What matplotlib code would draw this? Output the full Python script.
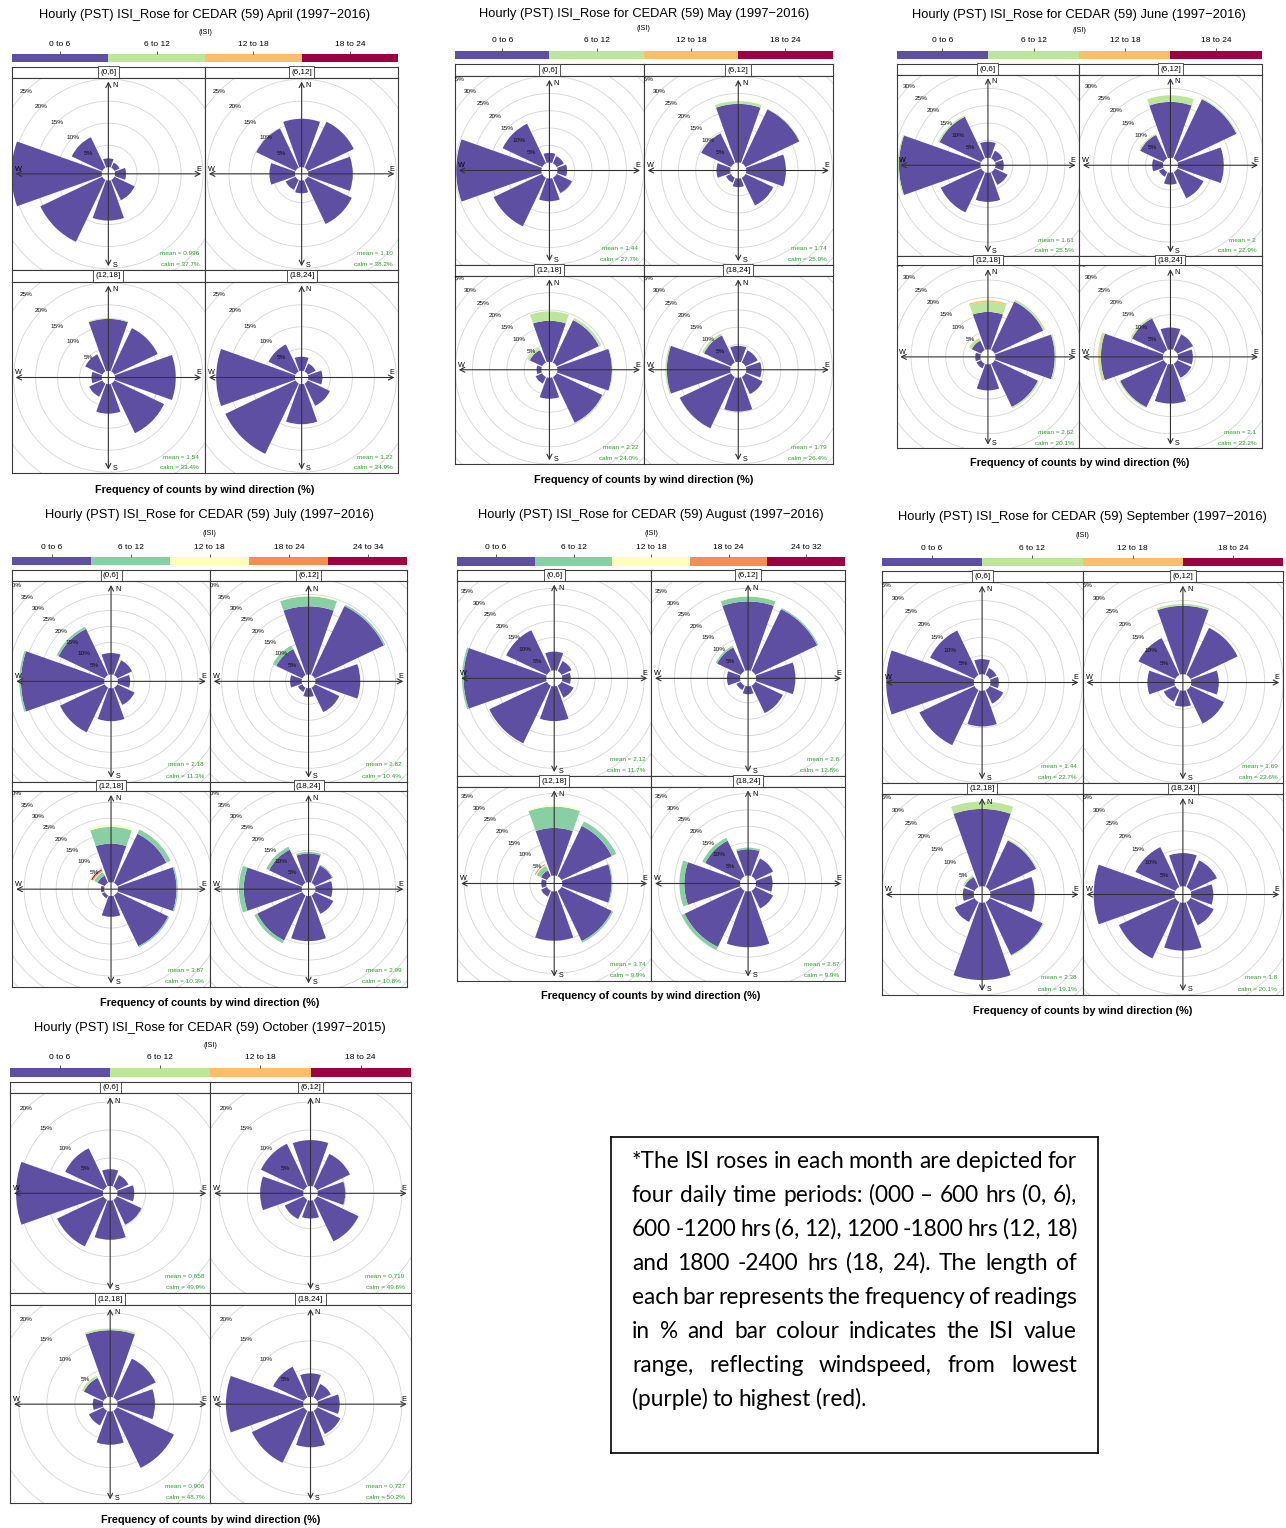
import matplotlib
matplotlib.use("Agg")
import matplotlib.pyplot as plt
from matplotlib.patches import Wedge, Circle
import numpy as np

plt.rcParams['font.family'] = ['Liberation Sans', 'DejaVu Sans']

WPX, HPX = 1286, 1528
fig = plt.figure(figsize=(WPX / 100, HPX / 100), dpi=100)

# ---------------- data ----------------
DIRECTIONS = [0, 45, 90, 135, 180, 225, 270, 315]          # N NE E SE S SW W NW
PERIODS = ["(0,6]", "(6,12]", "(12,18]", "(18,24]"]

PAL4 = ['#5E4FA2', '#BEE59C', '#FDBE6C', '#9E0142']
PAL5 = ['#5E4FA2', '#88CFA4', '#FFFFBF', '#F88D52', '#9E0142']

BINS4 = ["0 to 6", "6 to 12", "12 to 18", "18 to 24"]
BINS_JUL = ["0 to 6", "6 to 12", "12 to 18", "18 to 24", "24 to 34"]
BINS_AUG = ["0 to 6", "6 to 12", "12 to 18", "18 to 24", "24 to 32"]

# each panel: list of ISI bins, each bin = 8 direction frequencies (%)
april_freq = [
    [[2.0, 1.3, 2.5, 5.1, 9.1, 15.6, 20.5, 7.7]],
    [[11.0, 11.6, 10.1, 11.1, 2.9, 2.5, 5.8, 9.9]],
    [[11.8, 10.9, 13.8, 12.5, 6.7, 3.3, 2.3, 4.3], [0.2, 0, 0, 0, 0, 0, 0, 0]],
    [[3.2, 2.0, 3.2, 5.6, 9.1, 17.7, 17.9, 6.8]],
]
april_mean = ["0.996", "1.10", "1.54", "1.22"]
april_calm = ["37.7", "38.2", "33.4", "34.9"]

may_freq = [
    [[2.8, 2.3, 2.8, 4.9, 6.6, 15.6, 24.7, 12.7]],
    [[17.0, 17.3, 11.5, 8.9, 2.5, 1.6, 4.0, 9.6], [0.8, 0.2, 0, 0, 0, 0, 0, 0.1]],
    [[11.9, 13.6, 15.8, 14.7, 6.1, 2.1, 1.4, 4.0], [2.7, 0.7, 0.2, 0.2, 0, 0, 0, 0.8]],
    [[4.6, 3.9, 4.4, 5.5, 9.8, 16.5, 18.4, 8.7], [0, 0, 0, 0, 0, 0.1, 0.4, 0.6]],
]
may_mean = ["1.44", "1.74", "2.22", "1.79"]
may_calm = ["27.7", "25.9", "24.0", "26.4"]

june_freq = [
    [[4.6, 2.5, 2.4, 4.1, 8.4, 12.9, 23.5, 13.3], [0, 0, 0, 0, 0, 0, 0.3, 0.4]],
    [[16.1, 18.9, 13.2, 8.4, 3.4, 1.5, 3.1, 7.5], [1.9, 0.3, 0, 0, 0, 0, 0, 0.3]],
    [[10.8, 15.5, 17.1, 13.8, 7.5, 1.5, 1.5, 3.0], [2.9, 0.6, 0.4, 0.4, 0, 0, 0, 0.8],
     [0.4, 0, 0, 0, 0, 0, 0, 0.1]],
    [[6.3, 5.0, 4.3, 4.5, 11.3, 13.9, 17.9, 10.1], [0, 0, 0, 0, 0, 0.3, 0.6, 0.5],
     [0, 0, 0, 0, 0, 0, 0.2, 0]],
]
june_mean = ["1.61", "2", "2.62", "2.1"]
june_calm = ["25.5", "22.9", "20.1", "22.2"]

july_freq = [
    [[6.7, 5.1, 3.8, 6.0, 10.3, 15.5, 26.0, 16.0], [0, 0, 0, 0, 0, 0, 0.5, 0.7]],
    [[21.3, 23.9, 14.0, 8.5, 2.7, 1.5, 3.6, 9.0], [3.1, 0.5, 0, 0, 0, 0, 0, 1.2],
     [0.2, 0, 0, 0, 0, 0, 0, 0]],
    [[12.1, 17.0, 18.3, 17.6, 6.5, 1.0, 1.0, 2.5], [5.2, 1.5, 0.4, 0.4, 0, 0, 0, 1.2],
     [0.7, 0.1, 0, 0, 0, 0, 0, 0.3], [0, 0, 0, 0, 0, 0, 0, 0.4], [0, 0, 0, 0, 0, 0, 0, 0.3]],
    [[9.0, 6.0, 5.3, 6.4, 14.1, 15.6, 18.1, 11.5], [0.5, 0.3, 0, 0, 0, 1.0, 1.5, 1.0]],
]
july_mean = ["2.18", "2.82", "3.87", "2.99"]
july_calm = ["11.3", "10.4", "10.3", "10.8"]

august_freq = [
    [[5.7, 3.4, 2.6, 4.1, 10.6, 19.5, 25.2, 13.8], [0, 0, 0, 0, 0, 0, 0.5, 0]],
    [[21.0, 20.9, 12.0, 9.3, 2.4, 1.5, 4.0, 8.0], [1.5, 0.4, 0, 0, 0, 0, 0, 0.5],
     [0.2, 0, 0, 0, 0, 0, 0, 0]],
    [[14.5, 17.0, 15.0, 17.0, 15.0, 2.0, 1.5, 2.0], [6.5, 1.5, 0.3, 0.5, 0, 0, 0, 1.5],
     [0.4, 0, 0, 0, 0, 0, 0, 0.3], [0, 0, 0, 0, 0, 0, 0, 0.3]],
    [[8.0, 6.0, 5.0, 6.0, 17.0, 19.0, 17.0, 12.0], [0.5, 0, 0, 0, 0, 1.0, 1.5, 1.0]],
]
august_mean = ["2.12", "2.6", "3.74", "2.87"]
august_calm = ["11.7", "12.8", "9.9", "9.9"]

september_freq = [
    [[4.1, 2.1, 2.3, 4.1, 9.7, 16.6, 23.8, 13.4]],
    [[18.6, 14.2, 7.5, 10.1, 4.3, 3.5, 7.4, 11.1], [0.5, 0, 0, 0, 0, 0, 0, 0]],
    [[21.0, 14.0, 12.0, 16.0, 21.0, 6.0, 3.0, 3.0], [2.0, 0.3, 0, 0.3, 0, 0, 0, 0.5]],
    [[9.0, 8.0, 6.0, 7.0, 13.0, 17.0, 22.0, 12.0]],
]
september_mean = ["1.44", "1.69", "2.38", "1.8"]
september_calm = ["22.7", "22.6", "19.1", "20.1"]

october_freq = [
    [[3.0, 2.3, 3.0, 4.9, 7.0, 9.2, 15.5, 7.6]],
    [[8.2, 6.5, 4.9, 8.2, 3.2, 3.8, 7.7, 8.5]],
    [[11.9, 7.7, 6.7, 11.3, 5.95, 2.9, 1.8, 3.9], [0.3, 0, 0, 0, 0, 0, 0, 0.4]],
    [[4.2, 2.7, 3.9, 4.6, 6.4, 10.3, 13.8, 6.1]],
]
october_mean = ["0.658", "0.719", "0.906", "0.727"]
october_calm = ["49.9", "49.6", "48.7", "50.2"]

NOTE_LINES = [
    "*The ISI roses in each month are depicted for",
    "four daily time periods: (000 \u2013 600 hrs (0, 6),",
    "600 -1200 hrs (6, 12), 1200 -1800 hrs (12, 18)",
    "and 1800 -2400 hrs (18, 24). The length of",
    "each bar represents the frequency of readings",
    "in % and bar colour indicates the ISI value",
    "range, reflecting windspeed, from lowest",
    "(purple) to highest (red).",
]

# ---------------- layout (pixels) ----------------
# box: left, right, top, strip1 bottom, panel1 bottom, strip2 bottom, bottom
MONTHS = [
    dict(title="Hourly (PST) ISI_Rose for CEDAR (59) April (1997\u22122016)", bins=BINS4, pal=PAL4,
         freq=april_freq, mean=april_mean, calm=april_calm,
         box=(11.7, 398.3, 66.7, 77.7, 270, 281.7, 473.3), ty=15, isi=32.7, cb=(54.3, 61.7), cap=490,
         k=4.4, r0=6.7),
    dict(title="Hourly (PST) ISI_Rose for CEDAR (59) May (1997\u22122016)", bins=BINS4, pal=PAL4,
         freq=may_freq, mean=may_mean, calm=may_calm,
         box=(455, 832.7, 64.3, 76, 265, 275.5, 464), ty=14, isi=28.3, cb=(51, 59), cap=480,
         k=3.45, r0=8.0),
    dict(title="Hourly (PST) ISI_Rose for CEDAR (59) June (1997\u22122016)", bins=BINS4, pal=PAL4,
         freq=june_freq, mean=june_mean, calm=june_calm,
         box=(896.7, 1261.7, 64.3, 74.5, 256, 265.5, 448.3), ty=15, isi=30.7, cb=(51, 59), cap=463.3,
         k=3.47, r0=7.5),
    dict(title="Hourly (PST) ISI_Rose for CEDAR (59) July (1997\u22122016)", bins=BINS_JUL, pal=PAL5,
         freq=july_freq, mean=july_mean, calm=july_calm,
         box=(12.3, 407.3, 570, 581, 781.7, 791, 987.3), ty=515, isi=534, cb=(557.3, 565), cap=1003,
         k=3.2, r0=6.9),
    dict(title="Hourly (PST) ISI_Rose for CEDAR (59) August (1997\u22122016)", bins=BINS_AUG, pal=PAL5,
         freq=august_freq, mean=august_mean, calm=august_calm,
         box=(457.3, 845, 570, 580.7, 776, 786.5, 980.5), ty=515, isi=533.3, cb=(557.3, 565.7), cap=996,
         k=3.28, r0=8.0),
    dict(title="Hourly (PST) ISI_Rose for CEDAR (59) September (1997\u22122016)", bins=BINS4, pal=PAL4,
         freq=september_freq, mean=september_mean, calm=september_calm,
         box=(881.7, 1283.3, 570.7, 581.7, 783.3, 794, 995), ty=517.3, isi=535, cb=(558.3, 566), cap=1011,
         k=3.68, r0=8.3),
    dict(title="Hourly (PST) ISI_Rose for CEDAR (59) October (1997\u22122015)", bins=BINS4, pal=PAL4,
         freq=october_freq, mean=october_mean, calm=october_calm,
         box=(10, 410.7, 1081.7, 1093.3, 1293.3, 1305, 1503.3), ty=1028.3, isi=1045.7, cb=(1067.7, 1076.7),
         cap=1520, k=5.6, r0=7.3),
]

LINE_C = '#3a3a3a'
HALF_ANGLE = 19.5


def axes_px(l, t, r, b):
    return fig.add_axes([l / WPX, 1 - b / HPX, (r - l) / WPX, (b - t) / HPX])


def style_box(ax):
    ax.set_xticks([])
    ax.set_yticks([])
    for s in ax.spines.values():
        s.set_color(LINE_C)
        s.set_linewidth(0.8)


def draw_month(m):
    L, R, top, s1b, p1b, s2b, bot = m['box']
    cx = (L + R) / 2
    fig.text(cx / WPX, 1 - m['ty'] / HPX, m['title'], ha='center', va='center', fontsize=9.3)
    fig.text(cx / WPX, 1 - m['isi'] / HPX, '(ISI)', ha='center', va='center', fontsize=5.3)

    # colour key
    bins, pal = m['bins'], m['pal']
    n = len(bins)
    cax = axes_px(L, m['cb'][0], R, m['cb'][1])
    pos = np.arange(n) + 0.5
    cax.bar(pos, np.ones(n), width=1.0, color=pal[:n], edgecolor='none')
    cax.set_xlim(0, n)
    cax.set_ylim(0, 1)
    cax.set_xticks(pos)
    cax.set_xticklabels(bins, fontsize=6.0)
    cax.xaxis.tick_top()
    cax.tick_params(axis='x', length=2.5, width=0.6, pad=2.2, color='#444444')
    cax.set_yticks([])
    for s in cax.spines.values():
        s.set_visible(False)

    k, r0 = m['k'], m['r0']
    off = r0 / k
    pw = (R - L) / 2
    rows = [(top, s1b, p1b), (p1b, s2b, bot)]
    for i in range(4):
        row, col = divmod(i, 2)
        st, sb, pb = rows[row]
        xl = L + col * pw
        xr = xl + pw
        # strip
        sax = axes_px(xl, st, xr, sb)
        style_box(sax)
        sax.set_xlim(0, 1)
        sax.set_ylim(0, 1)
        sax.text(0.5, 0.5, PERIODS[i], ha='center', va='center', fontsize=5.8,
                 bbox=dict(boxstyle='square,pad=0.3', fc='white', ec=LINE_C, lw=0.6))
        # panel
        ax = axes_px(xl, sb, xr, pb)
        style_box(ax)
        hx = pw / 2 / k
        hy = (pb - sb) / 2 / k
        ax.set_xlim(-hx, hx)
        ax.set_ylim(-hy, hy)
        rmax = 1.45 * max(hx, hy)
        c45 = np.cos(np.radians(45))
        p = 5
        while off + p < rmax:
            ax.add_patch(Circle((0, 0), off + p, fill=False, ec='#d6d6d6', lw=0.6, zorder=1))
            ax.text(-(off + p) * c45, (off + p) * c45, f"{p}%", ha='center', va='center',
                    fontsize=4.6, color='#111111', zorder=6, clip_on=True)
            p += 5
        # stacked bars
        panel = m['freq'][i]
        for j, d in enumerate(DIRECTIONS):
            cum = off
            for b, vals in enumerate(panel):
                v = vals[j]
                if v <= 0:
                    continue
                th = 90 - d
                ax.add_patch(Wedge((0, 0), cum + v, th - HALF_ANGLE, th + HALF_ANGLE, width=v,
                                   facecolor=pal[b], edgecolor='none', zorder=2))
                cum += v
        # axes arrows
        ah = 0.96
        ax.annotate('', xy=(hx * ah, 0), xytext=(-hx * ah, 0),
                    arrowprops=dict(arrowstyle='<->,head_length=0.35,head_width=0.18', lw=0.8,
                                    color='#333333', shrinkA=0, shrinkB=0), zorder=4)
        ax.annotate('', xy=(0, hy * ah), xytext=(0, -hy * ah),
                    arrowprops=dict(arrowstyle='<->,head_length=0.35,head_width=0.18', lw=0.8,
                                    color='#333333', shrinkA=0, shrinkB=0), zorder=4)
        fs = 5.2
        ax.text(0.07 * hx, 0.92 * hy, 'N', fontsize=fs, ha='center', va='center', zorder=5)
        ax.text(0.07 * hx, -0.95 * hy, 'S', fontsize=fs, ha='center', va='center', zorder=5)
        ax.text(0.935 * hx, 0.05 * hy, 'E', fontsize=fs, ha='center', va='center', zorder=5)
        ax.text(-0.935 * hx, 0.05 * hy, 'W', fontsize=fs, ha='center', va='center', zorder=5)
        # mean / calm
        gcol = '#2E9E2E'
        ax.text(0.97, 0.085, f"mean = {m['mean'][i]}", transform=ax.transAxes, ha='right',
                va='center', fontsize=4.6, color=gcol, zorder=6)
        ax.text(0.97, 0.028, f"calm = {m['calm'][i]}%", transform=ax.transAxes, ha='right',
                va='center', fontsize=4.6, color=gcol, zorder=6)

    fig.text(cx / WPX, 1 - m['cap'] / HPX, 'Frequency of counts by wind direction (%)',
             ha='center', va='center', fontsize=7.8, fontweight='bold')


for m in MONTHS:
    draw_month(m)

# ---------------- note box ----------------
bx0, by0, bx1, by1 = 611, 1137, 1098, 1453
box_ax = axes_px(bx0, by0, bx1, by1)
box_ax.set_xticks([])
box_ax.set_yticks([])
for s in box_ax.spines.values():
    s.set_color('black')
    s.set_linewidth(1.2)
box_ax.patch.set_alpha(0)

renderer = fig.canvas.get_renderer()
tl, tr = 632, 1077
y0, dy = 1168, 34
NOTE_FONT = dict(fontsize=16.3, family=['Lato', 'DejaVu Sans'], color='black')
for li, line in enumerate(NOTE_LINES):
    words = line.split(' ')
    yf = 1 - (y0 + li * dy) / HPX
    texts = [fig.text(0, yf, w, ha='left', va='baseline', **NOTE_FONT) for w in words]
    widths = [t.get_window_extent(renderer).width for t in texts]
    if li < len(NOTE_LINES) - 1 and len(words) > 1:
        gap = (tr - tl - sum(widths)) / (len(words) - 1)
    else:
        gap = 5.0
    x = tl
    for t, w in zip(texts, widths):
        t.set_x(x / WPX)
        x += w + gap

fig.savefig('out.png', dpi=100)
